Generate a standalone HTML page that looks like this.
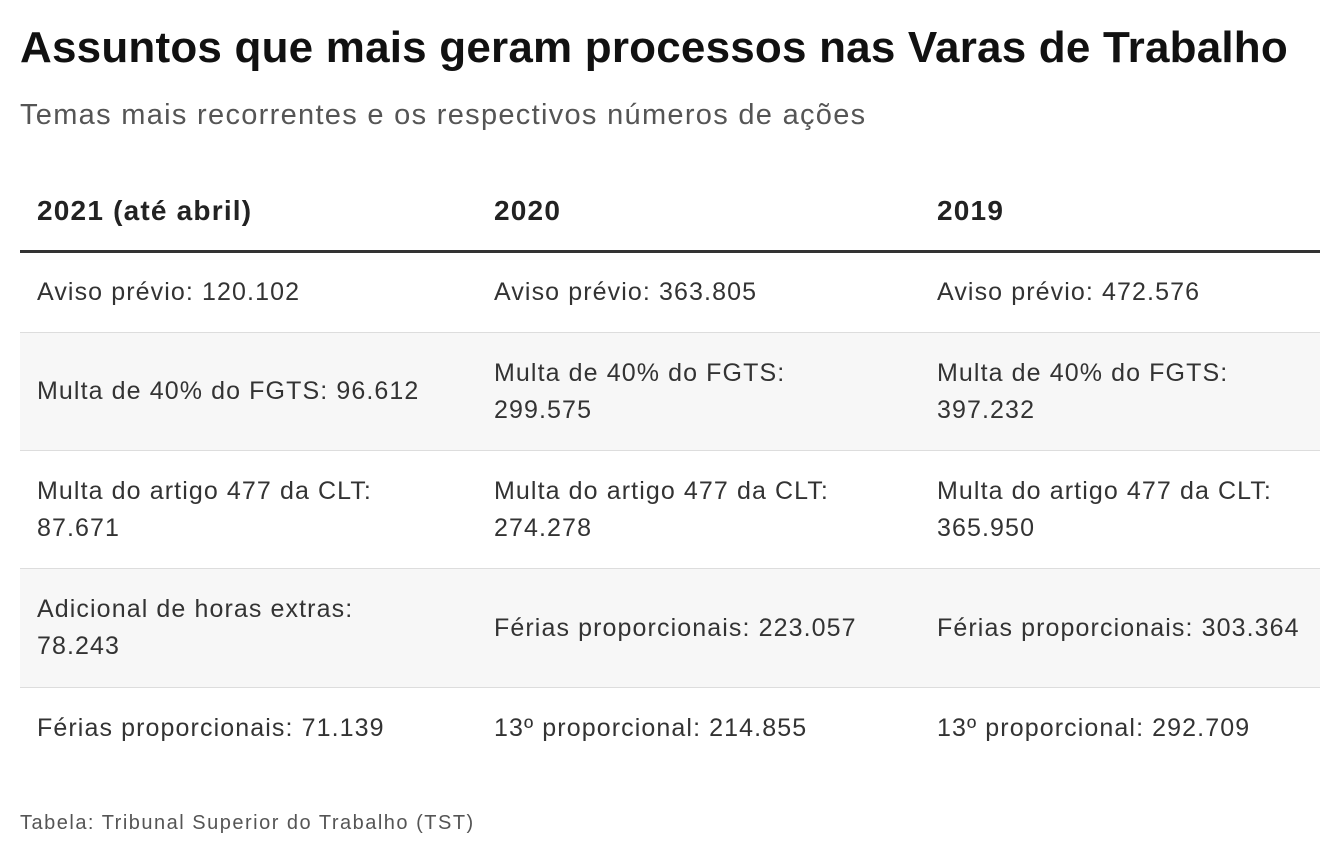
<!DOCTYPE html>
<html><head><meta charset="utf-8"><style>
body{margin:0;width:1340px;height:860px;background:#fff;font-family:"Liberation Sans",sans-serif;color:#222;position:relative;overflow:hidden}
.abs{position:absolute}
h1{position:absolute;left:20px;top:23px;margin:0;font-size:44px;font-weight:bold;letter-spacing:0.2px;color:#111;white-space:nowrap}
.sub{left:20px;top:99px;font-size:29px;letter-spacing:1.3px;color:#555;white-space:nowrap}
.hdr{top:195px;font-size:28px;letter-spacing:1.2px;font-weight:bold;color:#222}
.rule{left:20px;width:1300px;top:250px;height:3px;background:#333}
.row{left:20px;width:1300px;border-bottom:1px solid #ddd}
.row.g{background:#f7f7f7}
.cell{position:absolute;font-size:25px;letter-spacing:1.1px;line-height:37px;color:#333;display:flex;align-items:center;height:100%;top:0}
.c1{left:17px;width:440px}.c2{left:474px;width:430px}.c3{left:917px;width:400px}
.foot{left:20px;top:812px;font-size:20px;letter-spacing:1.5px;color:#555;white-space:nowrap}
</style></head><body>
<h1>Assuntos que mais geram processos nas Varas de Trabalho</h1>
<div class="abs sub">Temas mais recorrentes e os respectivos números de ações</div>
<div class="abs hdr" style="left:37px">2021 (até abril)</div>
<div class="abs hdr" style="left:494px">2020</div>
<div class="abs hdr" style="left:937px">2019</div>
<div class="abs rule"></div>

<div class="abs row" style="top:253px;height:79px">
<div class="cell c1">Aviso prévio: 120.102</div>
<div class="cell c2">Aviso prévio: 363.805</div>
<div class="cell c3">Aviso prévio: 472.576</div></div>

<div class="abs row g" style="top:333px;height:117px">
<div class="cell c1">Multa de 40% do FGTS: 96.612</div>
<div class="cell c2">Multa de 40% do FGTS:<br>299.575</div>
<div class="cell c3">Multa de 40% do FGTS:<br>397.232</div></div>

<div class="abs row" style="top:451px;height:117px">
<div class="cell c1">Multa do artigo 477 da CLT:<br>87.671</div>
<div class="cell c2">Multa do artigo 477 da CLT:<br>274.278</div>
<div class="cell c3">Multa do artigo 477 da CLT:<br>365.950</div></div>

<div class="abs row g" style="top:569px;height:118px">
<div class="cell c1">Adicional de horas extras:<br>78.243</div>
<div class="cell c2">Férias proporcionais: 223.057</div>
<div class="cell c3">Férias proporcionais: 303.364</div></div>

<div class="abs row" style="top:688px;height:80px;border-bottom:none">
<div class="cell c1">Férias proporcionais: 71.139</div>
<div class="cell c2">13º proporcional: 214.855</div>
<div class="cell c3">13º proporcional: 292.709</div></div>

<div class="abs foot">Tabela: Tribunal Superior do Trabalho (TST)</div>
</body></html>
